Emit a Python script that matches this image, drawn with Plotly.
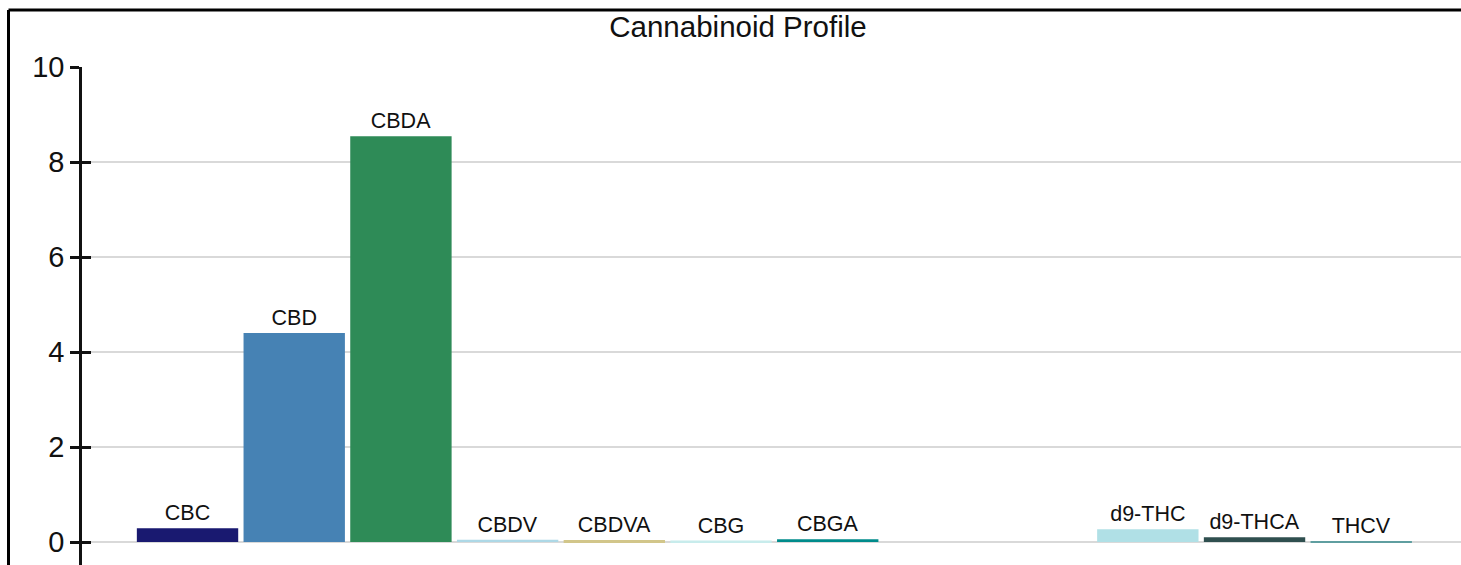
import plotly.graph_objects as go

categories = ["CBC", "CBD", "CBDA", "CBDV", "CBDVA", "CBG", "CBGA", "CBN",
              "d8-THC", "d9-THC", "d9-THCA", "THCV"]
values = [0.29, 4.40, 8.54, 0.05, 0.04, 0.03, 0.06, 0.0, 0.0, 0.27, 0.10, 0.01]
colors = ["#191970", "#4682B4", "#2E8B57", "#ADD8E6", "#D2C68A", "#C8ECEC",
          "#008B8B", "#8FBC8F", "#6B8E23", "#B0E0E6", "#2F4F4F", "#5F9EA0"]
labels = [c if v > 0 else "" for c, v in zip(categories, values)]
y_ticks = [0, 2, 4, 6, 8, 10]

# the page margin is removed (post_script below), so the figure fills the window
W, H = 1461, 565
ML, MR, MT, MB = 80, 0, 67, 0
pw = W - ML - MR
ph = H - MT - MB
FONT = "Liberation Sans, Arial, Helvetica"

fig = go.Figure()
fig.add_trace(go.Bar(
    x=categories, y=values, marker=dict(color=colors, line=dict(width=0)),
    text=labels, textposition="outside", cliponaxis=False,
    textfont=dict(family=FONT, size=21.5, color="#111111"),
    showlegend=False, hoverinfo="x+y",
))
# invisible trace to carry the inner half of the crossing ticks
fig.add_trace(go.Scatter(x=[categories[0]], y=[0], yaxis="y2", mode="markers",
                         marker=dict(opacity=0), showlegend=False, hoverinfo="skip"))

fig.update_layout(
    width=W, height=H,
    margin=dict(l=ML, r=MR, t=MT, b=MB),
    paper_bgcolor="white", plot_bgcolor="white",
    bargap=0.05,
    font=dict(family=FONT, color="#111111"),
    title=dict(text="Cannabinoid Profile", x=738 / W, xanchor="center",
               xref="container", yref="container", y=1 - 27 / H, yanchor="middle",
               font=dict(size=29.5, color="#111111", family=FONT)),
    xaxis=dict(domain=[10 / pw, 1], range=[-0.914, 11.935], showticklabels=False,
               showgrid=False, zeroline=False, showline=False, ticks=""),
    yaxis=dict(range=[-0.484, 10], tickvals=y_ticks, anchor="free", position=0,
               showgrid=True, gridcolor="#d9d9d9", gridwidth=1.5, zeroline=False,
               showline=True, linecolor="#111111", linewidth=2.5,
               ticks="outside", ticklen=9, tickwidth=2.5, tickcolor="#111111",
               tickfont=dict(size=29, color="#111111", family=FONT)),
    yaxis2=dict(range=[-0.484, 10], tickvals=y_ticks, overlaying="y", anchor="free",
                position=0, side="left", showgrid=False, zeroline=False, showline=False,
                showticklabels=False, ticks="inside", ticklen=10, tickwidth=2.5,
                tickcolor="#111111"),
    shapes=[
        dict(type="line", xref="paper", yref="paper",
             x0=(8.5 - ML) / pw, x1=(8.5 - ML) / pw,
             y0=-0.1, y1=(H - 10 - MB) / ph,
             line=dict(color="#000000", width=3)),
        dict(type="line", xref="paper", yref="paper",
             x0=(8.5 - ML) / pw, x1=1.05,
             y0=(H - 10 - MB) / ph, y1=(H - 10 - MB) / ph,
             line=dict(color="#000000", width=3)),
    ],
)

fig.write_html(
    "out.html",
    config={"displayModeBar": False},
    post_script="document.body.style.margin='0';"
                "document.documentElement.style.overflow='hidden';"
                "document.body.style.overflow='hidden';",
)
